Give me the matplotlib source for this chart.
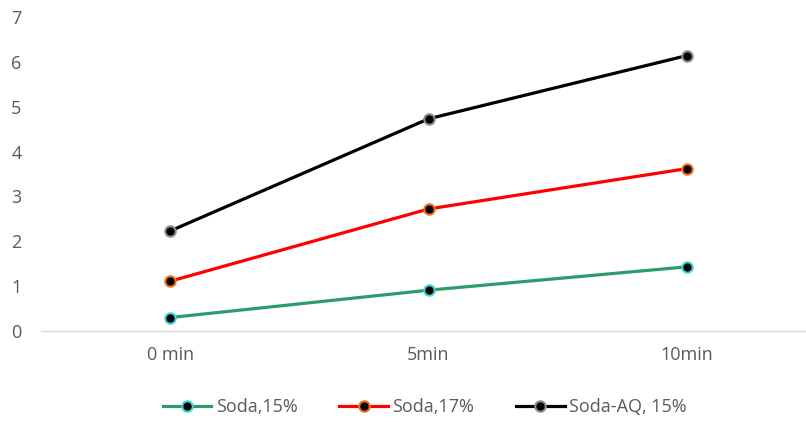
import matplotlib
matplotlib.use('Agg')
import matplotlib.pyplot as plt

plt.rcParams['font.family'] = ['Open Sans', 'DejaVu Sans']

# data
categories = ['0 min', '5min', '10min']
soda_15 = [0.30, 0.91, 1.43]
soda_17 = [1.11, 2.72, 3.62]
soda_aq = [2.23, 4.73, 6.14]

series = [
    ('Soda,15%', soda_15, '#2E9B6B', '#3FD3D9'),
    ('Soda,17%', soda_17, '#FF0000', '#F07020'),
    ('Soda-AQ, 15%', soda_aq, '#000000', '#8C8C8C'),
]

fig = plt.figure(figsize=(8.06, 4.22), dpi=100)
ax = fig.add_axes([41 / 806, 1 - 331 / 422, 775 / 806, 314 / 422])

x = range(len(categories))
for label, vals, color, edge in series:
    ax.plot(x, vals, color=color, lw=2.3, marker='o', markersize=7.5,
            markerfacecolor='black', markeredgecolor=edge, markeredgewidth=1.5,
            label=label, zorder=3)

ax.set_xlim(-0.5, 2.5)
ax.set_ylim(0, 7)
ax.set_yticks(range(0, 8))
ax.set_xticks(list(x))
ax.set_xticklabels(categories)

for side in ['top', 'right', 'left']:
    ax.spines[side].set_visible(False)
ax.spines['bottom'].set_color('#D9D9D9')
ax.spines['bottom'].set_linewidth(1.0)

ax.tick_params(axis='both', length=0, labelsize=13, labelcolor='#595959')
ax.tick_params(axis='y', pad=14)
ax.tick_params(axis='x', pad=11)

leg = fig.legend(loc='center', bbox_to_anchor=(0.527, 1 - 407 / 422), ncol=3,
                 frameon=False, fontsize=13, handlelength=2.7, handletextpad=0.25,
                 columnspacing=2.3)
for t in leg.get_texts():
    t.set_color('#595959')

fig.savefig('out.png', dpi=100)
